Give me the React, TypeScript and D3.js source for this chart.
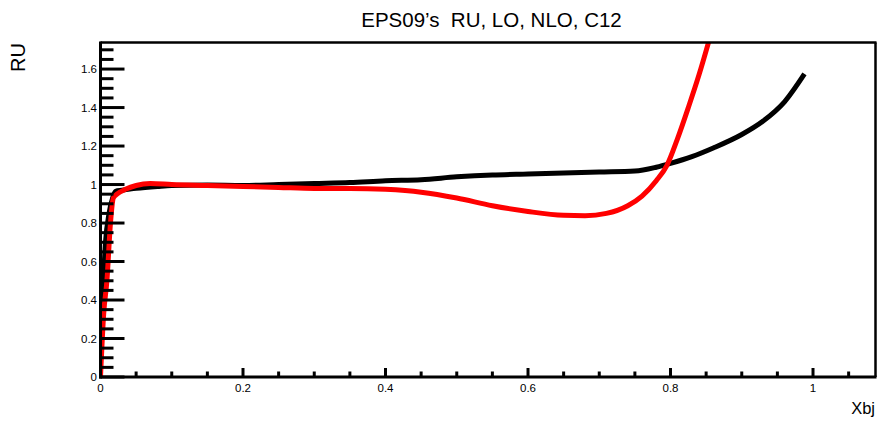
import React from "react";
import * as d3 from "d3";

const xTicksMajor = [0, 0.2, 0.4, 0.6, 0.8, 1];
const yTicksMajor = [0, 0.2, 0.4, 0.6, 0.8, 1, 1.2, 1.4, 1.6];
const xTickLabels = ["0", "0.2", "0.4", "0.6", "0.8", "1"];
const yTickLabels = ["0", "0.2", "0.4", "0.6", "0.8", "1", "1.2", "1.4", "1.6"];

const loX = [0.0, 0.004, 0.007, 0.012, 0.017, 0.021, 0.03, 0.05, 0.08, 0.1, 0.15, 0.2, 0.25, 0.3, 0.35, 0.4, 0.45, 0.5, 0.55, 0.6, 0.65, 0.7, 0.75, 0.78, 0.8, 0.83, 0.86, 0.9, 0.93, 0.96, 0.988];
const loY = [0.26, 0.5, 0.7, 0.85, 0.93, 0.965, 0.97, 0.98, 0.99, 0.995, 0.997, 0.995, 1.0, 1.005, 1.01, 1.02, 1.025, 1.04, 1.05, 1.055, 1.06, 1.065, 1.07, 1.09, 1.11, 1.145, 1.19, 1.26, 1.33, 1.43, 1.575];

const nloX = [0.0, 0.0045, 0.009, 0.014, 0.018, 0.023, 0.035, 0.05, 0.07, 0.1, 0.15, 0.2, 0.25, 0.3, 0.35, 0.4, 0.45, 0.5, 0.55, 0.6, 0.65, 0.68, 0.71, 0.74, 0.76, 0.78, 0.795, 0.81, 0.825, 0.84, 0.855];
const nloY = [0.0, 0.33, 0.5, 0.8, 0.93, 0.95, 0.975, 0.995, 1.005, 1.0, 0.995, 0.99, 0.985, 0.98, 0.98, 0.975, 0.96, 0.93, 0.89, 0.86, 0.84, 0.838, 0.85, 0.89, 0.94, 1.02, 1.1, 1.24, 1.4, 1.57, 1.76];

const W = 880;
const H = 421;
const left = 100.5;
const right = 875.5;
const top = 42.5;
const bottom = 377;

export default function App() {
  const x = d3.scaleLinear().domain([0, 1.0877]).range([left, right]);
  const y = d3.scaleLinear().domain([0, 1.738]).range([bottom, top]);

  const line = d3
    .line<[number, number]>()
    .x((d) => x(d[0]))
    .y((d) => y(d[1]))
    .curve(d3.curveMonotoneX);

  const lo = loX.map((v, i) => [v, loY[i]] as [number, number]);
  const nlo = nloX.map((v, i) => [v, nloY[i]] as [number, number]);

  const xMinor = d3.range(0, 1.0877, 0.05).filter((v) => Math.abs(v / 0.2 - Math.round(v / 0.2)) > 1e-6);
  const yMinor = d3.range(0, 1.738, 0.05).filter((v) => Math.abs(v / 0.2 - Math.round(v / 0.2)) > 1e-6);

  const font = "'Liberation Sans', Arial, Helvetica, sans-serif";

  return (
    <svg
      width={W}
      height={H}
      style={{ position: "absolute", left: 0, top: 0, background: "#fff" }}
      fontFamily={font}
    >
      <rect x={0} y={0} width={W} height={H} fill="#fff" />
      <defs>
        <clipPath id="frame">
          <rect x={left} y={top} width={right - left} height={bottom - top} />
        </clipPath>
      </defs>

      <text x={491.5} y={27} fontSize={20.5} textAnchor="middle" fill="#000" style={{ whiteSpace: "pre" }}>
        {"EPS09’s  RU, LO, NLO, C12"}
      </text>

      <g clipPath="url(#frame)">
        <path d={line(lo) || ""} fill="none" stroke="#000" strokeWidth={5} />
        <path d={line(nlo) || ""} fill="none" stroke="#ff0000" strokeWidth={5} />
      </g>

      {/* frame top & right */}
      <line x1={left} x2={right + 1} y1={top} y2={top} stroke="#000" strokeWidth={2.5} />
      <line x1={right} x2={right} y1={top} y2={bottom} stroke="#000" strokeWidth={2.5} />

      {/* y axis */}
      <line x1={left} x2={left} y1={top - 1} y2={bottom + 1.5} stroke="#000" strokeWidth={3} />
      {yTicksMajor.map((v) => (
        <line key={"ym" + v} x1={left} x2={left + 24} y1={y(v)} y2={y(v)} stroke="#000" strokeWidth={3} />
      ))}
      {yMinor.map((v) => (
        <line key={"yn" + v} x1={left} x2={left + 13} y1={y(v)} y2={y(v)} stroke="#000" strokeWidth={3} />
      ))}
      {yTicksMajor.map((v, i) => (
        <text key={"yl" + v} x={97} y={y(v) + 4} fontSize={11.5} textAnchor="end" fill="#000">
          {yTickLabels[i]}
        </text>
      ))}

      {/* x axis */}
      <line x1={left - 1.5} x2={right + 1} y1={bottom} y2={bottom} stroke="#000" strokeWidth={3} />
      {xTicksMajor.map((v) => (
        <line key={"xm" + v} x1={x(v)} x2={x(v)} y1={bottom} y2={bottom - 9} stroke="#000" strokeWidth={3} />
      ))}
      {xMinor.map((v) => (
        <line key={"xn" + v} x1={x(v)} x2={x(v)} y1={bottom} y2={bottom - 5.5} stroke="#000" strokeWidth={3} />
      ))}
      {xTicksMajor.map((v, i) => (
        <text key={"xl" + v} x={x(v)} y={391.5} fontSize={11.5} textAnchor="middle" fill="#000">
          {xTickLabels[i]}
        </text>
      ))}

      <text x={875} y={414} fontSize={16.5} textAnchor="end" fill="#000">
        Xbj
      </text>
      <text transform="translate(25,57.5) rotate(-90)" fontSize={20} textAnchor="middle" fill="#000">
        RU
      </text>
    </svg>
  );
}
